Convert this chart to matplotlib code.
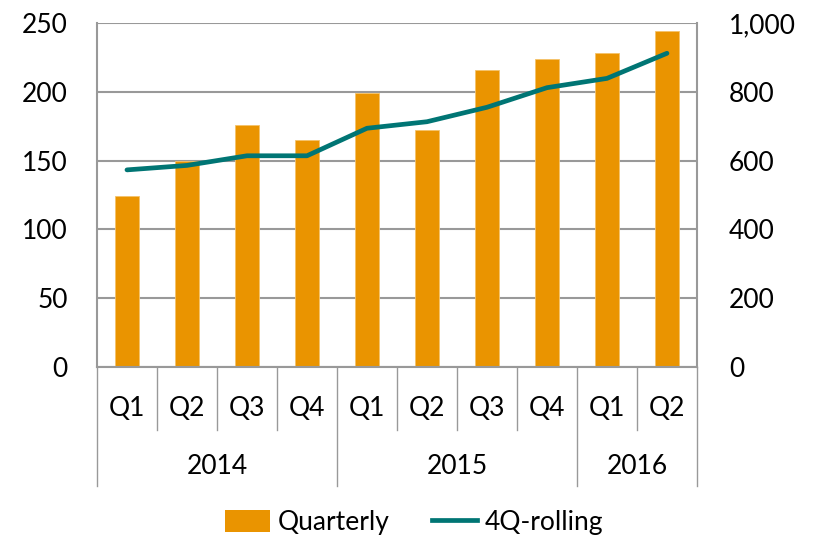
import matplotlib
matplotlib.use('Agg')
import matplotlib.pyplot as plt
from matplotlib.ticker import FuncFormatter
from matplotlib.patches import Patch
from matplotlib.lines import Line2D
import numpy as np

quarters = ['Q1', 'Q2', 'Q3', 'Q4', 'Q1', 'Q2', 'Q3', 'Q4', 'Q1', 'Q2']
years = ['2014', '2015', '2016']
year_counts = [4, 4, 2]
quarterly = [124, 150, 176, 165, 199, 172, 216, 224, 228, 244]
rolling = [573, 586, 614, 614, 694, 713, 755, 812, 839, 912]

ORANGE = '#EA9400'
TEAL = '#007574'
GRID = '#999999'
FS = 19

plt.rcParams['font.family'] = ['Lato', 'DejaVu Sans']
plt.rcParams['font.size'] = FS


def main():
    fig = plt.figure(figsize=(8.17, 5.4), dpi=100)
    ax = fig.add_axes([0.1187, 0.3204, 0.7344, 0.637])
    ax2 = ax.twinx()

    x = np.arange(len(quarters))
    ax.bar(x, quarterly, width=0.4, color=ORANGE, edgecolor='#F5C36A', linewidth=0.6, zorder=2)
    ax2.plot(x, rolling, color=TEAL, linewidth=3.4, solid_capstyle='round', zorder=3)

    ax.set_xlim(-0.5, len(quarters) - 0.5)
    ax.set_ylim(0, 250)
    ax.set_yticks(range(0, 251, 50))
    ax2.set_ylim(0, 1000)
    ax2.set_yticks(range(0, 1001, 200))
    ax2.yaxis.set_major_formatter(FuncFormatter(lambda v, p: f'{int(v):,}'))

    ax.yaxis.grid(True, color=GRID, linewidth=1.5, zorder=0)
    ax.set_axisbelow(True)
    for a in (ax, ax2):
        a.spines['top'].set_visible(False)
        for s in a.spines.values():
            s.set_color(GRID)
            s.set_linewidth(1.5)
        a.tick_params(axis='y', length=0, labelsize=FS)
    ax2.spines['left'].set_visible(False)
    ax2.spines['bottom'].set_visible(False)
    ax.spines['right'].set_visible(False)
    ax.tick_params(axis='y', pad=21)
    ax2.tick_params(axis='y', pad=23)

    ax.set_xticks([])
    trans = ax.get_xaxis_transform()
    # quarter labels and separators
    for i, q in enumerate(quarters):
        ax.text(i, -0.12, q, transform=trans, ha='center', va='center', fontsize=FS)
    year_edges = [-0.5]
    for c in year_counts:
        year_edges.append(year_edges[-1] + c)
    for e in np.arange(-0.5, len(quarters), 1.0):
        is_year = any(abs(e - ye) < 1e-6 for ye in year_edges)
        y_end = -0.345 if is_year else -0.183
        ax.plot([e, e], [0, y_end], transform=trans, color=GRID, linewidth=1,
                clip_on=False)
    for k, yr in enumerate(years):
        mid = (year_edges[k] + year_edges[k + 1]) / 2
        ax.text(mid, -0.29, yr, transform=trans, ha='center', va='center', fontsize=FS)

    handles = [Patch(facecolor=ORANGE, edgecolor='none'),
               Line2D([0], [0], color=TEAL, linewidth=3.4)]
    fig.legend(handles, ['Quarterly', '4Q-rolling'], loc='center',
               bbox_to_anchor=(0.507, 0.033), ncol=2, frameon=False, fontsize=FS,
               handlelength=1.7, handleheight=0.9, columnspacing=1.6, handletextpad=0.3)

    fig.savefig('out.png', dpi=100)


if __name__ == '__main__':
    main()
